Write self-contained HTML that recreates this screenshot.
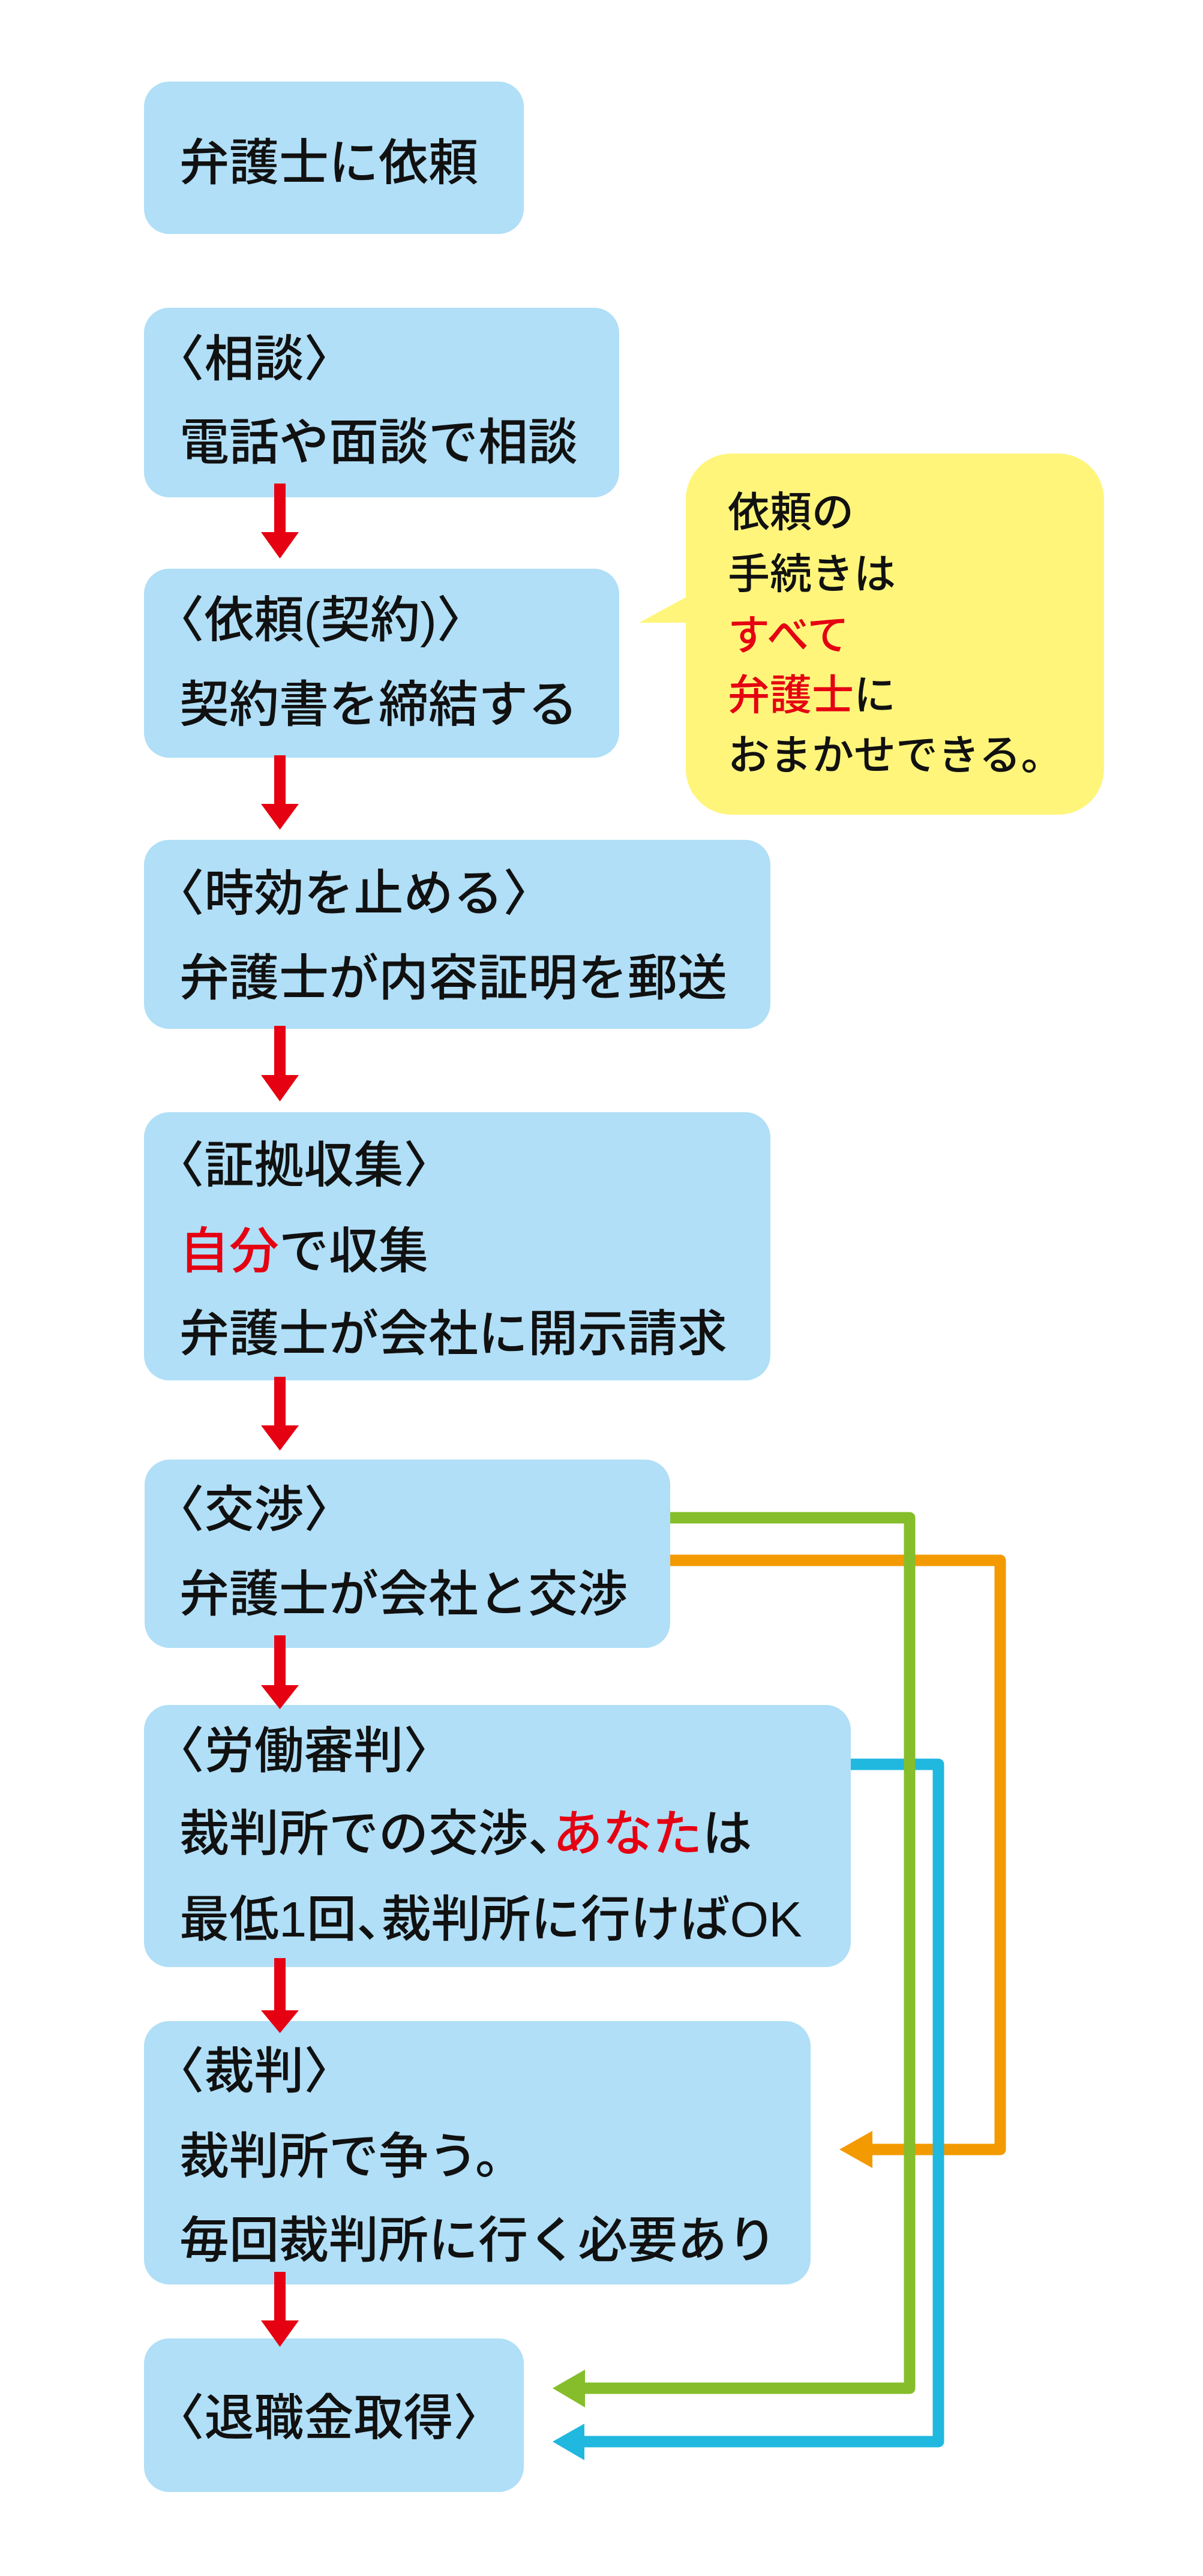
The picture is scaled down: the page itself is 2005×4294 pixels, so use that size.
<!DOCTYPE html>
<html lang="ja">
<head>
<meta charset="utf-8">
<title>退職金請求の流れ</title>
<style>
  html, body { margin: 0; padding: 0; background: #ffffff; }
  body { width: 2005px; height: 4294px; overflow: hidden; }
  svg { display: block; }
  .t { font-family: "Liberation Sans", "Noto Sans CJK JP", sans-serif; font-size: 83px; font-weight: 500; fill: #111111; }
  .c { font-family: "Liberation Sans", "Noto Sans CJK JP", sans-serif; font-size: 70px; font-weight: 500; fill: #111111; }
  .r { fill: #e50012; }
  .h { font-feature-settings: "halt"; }
</style>
</head>
<body>
<svg width="2005" height="4294" viewBox="0 0 2005 4294" xmlns="http://www.w3.org/2000/svg">
  <rect x="0" y="0" width="2005" height="4294" fill="#ffffff"/>

  <!-- blue boxes -->
  <g fill="#b0dff7">
    <rect x="240" y="136" width="633" height="254" rx="42" ry="42"/>
    <rect x="240" y="513" width="792" height="316" rx="42" ry="42"/>
    <rect x="240" y="948" width="792" height="315" rx="42" ry="42"/>
    <rect x="240" y="1400" width="1044" height="315" rx="42" ry="42"/>
    <rect x="240" y="1854" width="1044" height="447" rx="42" ry="42"/>
    <rect x="241" y="2433" width="876" height="314" rx="42" ry="42"/>
    <rect x="240" y="2842" width="1178" height="437" rx="42" ry="42"/>
    <rect x="240" y="3369" width="1111" height="439" rx="42" ry="42"/>
    <rect x="240" y="3898" width="633" height="256" rx="42" ry="42"/>
  </g>

  <!-- yellow callout -->
  <g fill="#fff57b">
    <rect x="1143" y="756" width="697" height="602" rx="76" ry="76"/>
    <polygon points="1065,1038 1146,994 1146,1038"/>
  </g>

  <!-- red arrows -->
  <g fill="#e50012">
    <rect x="457" y="806" width="19" height="84"/>
    <polygon points="435,887 498,887 466.5,931"/>
    <rect x="457" y="1259" width="19" height="84"/>
    <polygon points="435,1340 498,1340 466.5,1383"/>
    <rect x="457" y="1710" width="19" height="85"/>
    <polygon points="435,1792 498,1792 466.5,1836"/>
    <rect x="457" y="2295" width="19" height="84"/>
    <polygon points="435,2376 498,2376 466.5,2418"/>
    <rect x="457" y="2726" width="19" height="86"/>
    <polygon points="435,2809 498,2809 466.5,2849"/>
    <rect x="457" y="3264" width="19" height="90"/>
    <polygon points="435,3351 498,3351 466.5,3389"/>
    <rect x="457" y="3787" width="19" height="84"/>
    <polygon points="435,3868 498,3868 466.5,3912"/>
  </g>

  <!-- orange connector -->
  <path d="M1117,2601 H1667 V3583 H1450" fill="none" stroke="#f39a00" stroke-width="19" stroke-linejoin="round"/>
  <polygon points="1399,3583 1454,3552 1454,3614" fill="#f39a00"/>

  <!-- blue connector -->
  <path d="M1418,2941 H1564 V4070 H970" fill="none" stroke="#20b8df" stroke-width="19" stroke-linejoin="round"/>
  <polygon points="921,4070 974,4040 974,4101" fill="#20b8df"/>

  <!-- green connector -->
  <path d="M1117,2530 H1516 V3981 H970" fill="none" stroke="#85be2a" stroke-width="19" stroke-linejoin="round"/>
  <polygon points="921,3981 975,3950 975,4013" fill="#85be2a"/>

  <!-- box texts -->
  <text class="t" x="299" y="300">弁護士に依頼</text>

  <text class="t" x="299" y="627"><tspan class="h">〈</tspan>相談<tspan class="h">〉</tspan></text>
  <text class="t" x="299" y="766">電話や面談で相談</text>

  <text class="t" x="299" y="1062"><tspan class="h">〈</tspan>依頼(契約)<tspan class="h">〉</tspan></text>
  <text class="t" x="299" y="1203">契約書を締結する</text>

  <text class="t" x="299" y="1518"><tspan class="h">〈</tspan>時効を止める<tspan class="h">〉</tspan></text>
  <text class="t" x="299" y="1659">弁護士が内容証明を郵送</text>

  <text class="t" x="299" y="1971"><tspan class="h">〈</tspan>証拠収集<tspan class="h">〉</tspan></text>
  <text class="t" x="299" y="2114"><tspan class="r">自分</tspan>で収集</text>
  <text class="t" x="299" y="2252">弁護士が会社に開示請求</text>

  <text class="t" x="299" y="2545"><tspan class="h">〈</tspan>交渉<tspan class="h">〉</tspan></text>
  <text class="t" x="299" y="2686">弁護士が会社と交渉</text>

  <text class="t" x="299" y="2947"><tspan class="h">〈</tspan>労働審判<tspan class="h">〉</tspan></text>
  <text class="t" x="299" y="3085">裁判所での交渉<tspan class="h">、</tspan><tspan class="r">あなた</tspan>は</text>
  <text class="t" x="299" y="3228">最低1回<tspan class="h">、</tspan>裁判所に行けばOK</text>

  <text class="t" x="299" y="3481"><tspan class="h">〈</tspan>裁判<tspan class="h">〉</tspan></text>
  <text class="t" x="299" y="3623">裁判所で争う。</text>
  <text class="t" x="299" y="3763">毎回裁判所に行く必要あり</text>

  <text class="t" x="299" y="4059"><tspan class="h">〈</tspan>退職金取得<tspan class="h">〉</tspan></text>

  <!-- callout texts -->
  <text class="c" x="1213" y="878">依頼の</text>
  <text class="c" x="1213" y="981">手続きは</text>
  <text class="c" x="1213" y="1083"><tspan class="r">すべて</tspan></text>
  <text class="c" x="1213" y="1183"><tspan class="r">弁護士</tspan>に</text>
  <text class="c" x="1213" y="1283">おまかせできる。</text>
</svg>
</body>
</html>
